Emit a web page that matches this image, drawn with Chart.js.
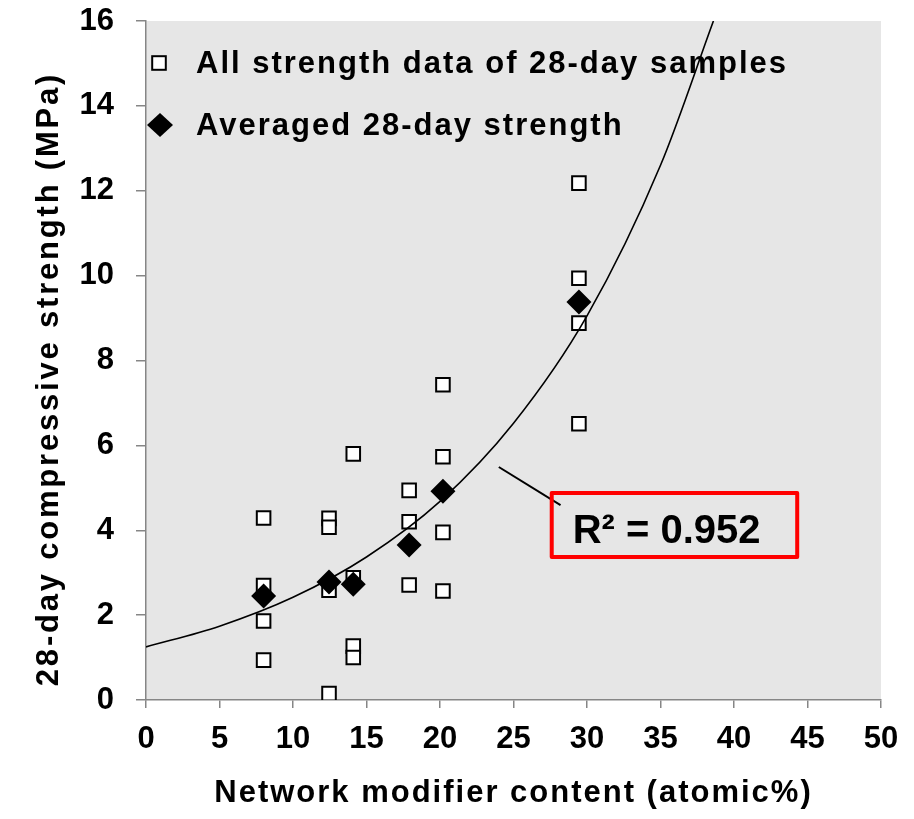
<!DOCTYPE html>
<html>
<head>
<meta charset="utf-8">
<script src="https://cdn.jsdelivr.net/npm/chart.js@4.4.0/dist/chart.umd.min.js"></script>
<style>
  html, body { margin: 0; padding: 0; background: #fff; }
  #wrap { width: 914px; height: 819px; }
</style>
</head>
<body>
<div id="wrap"><canvas id="chart" width="914" height="819"></canvas></div>
<script>
// all strength data of 28-day samples
const sampleX = [8.0, 8.0, 8.0, 8.0, 12.45, 12.45, 12.45, 12.45, 14.1, 14.1, 14.1, 14.1, 17.9, 17.9, 17.9, 20.2, 20.2, 20.2, 20.2, 29.45, 29.45, 29.45, 29.45];
const sampleY = [4.29, 2.70, 1.86, 0.94, 4.28, 4.07, 2.59, 0.15, 5.80, 2.88, 1.27, 1.00, 4.94, 4.20, 2.71, 7.43, 5.73, 3.95, 2.57, 12.18, 9.94, 8.88, 6.51];

// averaged 28-day strength
const avgX = [8.0, 12.45, 14.1, 17.9, 20.2, 29.45];
const avgY = [2.45, 2.78, 2.73, 3.65, 4.92, 9.38];

// exponential trendline, points
const trendX = [0, 5, 10, 15, 20, 25, 30, 35, 38.6];
const trendY = [1.25, 1.74, 2.42, 3.37, 4.68, 6.52, 9.05, 12.6, 16.0];

const xTicks = [0, 5, 10, 15, 20, 25, 30, 35, 40, 45, 50];
const yTicks = [0, 2, 4, 6, 8, 10, 12, 14, 16];

const legendLabels = ['All strength data of 28-day samples', 'Averaged 28-day strength'];
const xTitle = 'Network modifier content (atomic%)';
const yTitle = '28-day compressive strength (MPa)';

// R² callout (data coordinates)
const r2Text = 'R\u00B2 = 0.952';
const r2Box = { x0: 27.6, x1: 44.3, y0: 4.88, y1: 3.37 };
const r2Leader = { x0: 24.0, y0: 5.49, x1: 28.2, y1: 4.59 };

const FONT = '"Liberation Sans", Arial, Helvetica, sans-serif';
const AXIS_GREY = '#868686';

Chart.defaults.font.family = FONT;
Chart.defaults.font.weight = 'bold';
Chart.defaults.color = '#000';

const toPoints = (xs, ys) => xs.map((x, i) => ({ x: x, y: ys[i] }));

/**
 * Grey plot area behind everything
 */
const plotBackground = {
  id: 'plotBackground',
  beforeDraw(chart) {
    const { ctx, chartArea: a } = chart;
    ctx.save();
    ctx.fillStyle = '#e6e6e6';
    ctx.fillRect(a.left, a.top, a.right - a.left, a.bottom - a.top);
    ctx.restore();
  },
};

/**
 * Axis titles, drawn by hand so they can be spaced out like the original
 */
const axisTitles = {
  id: 'axisTitles',
  afterDraw(chart) {
    const { ctx, chartArea: a } = chart;
    ctx.save();
    ctx.fillStyle = '#000';
    ctx.font = 'bold 31px ' + FONT;
    ctx.textBaseline = 'alphabetic';
    ctx.textAlign = 'center';

    ctx.letterSpacing = '2px';
    ctx.fillText(xTitle, (a.left + a.right) / 2, 802);

    ctx.letterSpacing = '2.8px';
    ctx.translate(58, 379);
    ctx.rotate(-Math.PI / 2);
    ctx.fillText(yTitle, 0, 0);
    ctx.restore();
  },
};

/**
 * Legend inside the plot area, top left
 */
const insideLegend = {
  id: 'insideLegend',
  afterDatasetsDraw(chart) {
    const { ctx, chartArea: a } = chart;
    const mx = a.left + 13;
    const tx = a.left + 50;
    const rows = [a.top + 42, a.top + 104];
    ctx.save();

    // open square
    ctx.fillStyle = '#fff';
    ctx.strokeStyle = '#000';
    ctx.lineWidth = 2;
    ctx.fillRect(mx - 6.8, rows[0] - 6.8, 13.6, 13.6);
    ctx.strokeRect(mx - 6.8, rows[0] - 6.8, 13.6, 13.6);

    // filled diamond
    ctx.fillStyle = '#000';
    ctx.beginPath();
    ctx.moveTo(mx + 1, rows[1] - 12);
    ctx.lineTo(mx + 14, rows[1]);
    ctx.lineTo(mx + 1, rows[1] + 12);
    ctx.lineTo(mx - 12, rows[1]);
    ctx.closePath();
    ctx.fill();

    ctx.font = 'bold 31px ' + FONT;
    ctx.letterSpacing = '2px';
    ctx.textBaseline = 'middle';
    ctx.textAlign = 'left';
    legendLabels.forEach((label, i) => ctx.fillText(label, tx, rows[i] + 1));
    ctx.restore();
  },
};

/**
 * R² box with leader line
 */
const r2Callout = {
  id: 'r2Callout',
  afterDatasetsDraw(chart) {
    const { ctx } = chart;
    const xs = chart.scales.x;
    const ys = chart.scales.y;
    const left = xs.getPixelForValue(r2Box.x0);
    const right = xs.getPixelForValue(r2Box.x1);
    const top = ys.getPixelForValue(r2Box.y0);
    const bottom = ys.getPixelForValue(r2Box.y1);

    ctx.save();
    ctx.strokeStyle = '#000';
    ctx.lineWidth = 2;
    ctx.beginPath();
    ctx.moveTo(xs.getPixelForValue(r2Leader.x0), ys.getPixelForValue(r2Leader.y0));
    ctx.lineTo(xs.getPixelForValue(r2Leader.x1), ys.getPixelForValue(r2Leader.y1));
    ctx.stroke();

    ctx.strokeStyle = '#ff0000';
    ctx.lineWidth = 4;
    ctx.lineJoin = 'round';
    ctx.strokeRect(left, top, right - left, bottom - top);

    ctx.fillStyle = '#000';
    ctx.font = 'bold 40px ' + FONT;
    ctx.textBaseline = 'alphabetic';
    ctx.textAlign = 'left';
    ctx.fillText(r2Text, left + 21, bottom - 14);
    ctx.restore();
  },
};

const ctx = document.getElementById('chart').getContext('2d');
const chart = new Chart(ctx, {
  type: 'scatter',
  data: {
    datasets: [
      {
        label: legendLabels[0],
        data: toPoints(sampleX, sampleY),
        pointStyle: 'rect',
        pointRadius: 9.6,
        backgroundColor: '#ffffff',
        borderColor: '#000000',
        borderWidth: 2,
        order: 3,
      },
      {
        label: 'Trendline',
        data: toPoints(trendX, trendY),
        showLine: true,
        pointRadius: 0,
        borderColor: '#000000',
        borderWidth: 1.6,
        cubicInterpolationMode: 'monotone',
        order: 2,
      },
      {
        label: legendLabels[1],
        data: toPoints(avgX, avgY),
        pointStyle: 'rectRot',
        pointRadius: 12.5,
        backgroundColor: '#000000',
        borderColor: '#000000',
        borderWidth: 0,
        order: 1,
      },
    ],
  },
  options: {
    responsive: false,
    animation: false,
    events: [],
    layout: { padding: { top: 21, right: 33, bottom: 0, left: 0 } },
    plugins: {
      legend: { display: false },
      tooltip: { enabled: false },
    },
    scales: {
      x: {
        type: 'linear',
        min: 0,
        max: 50,
        afterBuildTicks: (scale) => { scale.ticks = xTicks.map((v) => ({ value: v })); },
        afterFit: (scale) => { scale.height = 119; },
        grid: { drawOnChartArea: false, tickLength: 8, color: AXIS_GREY, lineWidth: 1.5 },
        border: { color: AXIS_GREY, width: 1.5 },
        ticks: { font: { size: 31, weight: 'bold' }, padding: 13, maxRotation: 0, autoSkip: false },
        title: { display: false },
      },
      y: {
        type: 'linear',
        min: 0,
        max: 16,
        afterBuildTicks: (scale) => { scale.ticks = yTicks.map((v) => ({ value: v })); },
        afterFit: (scale) => {
          scale.width = 146;
          scale.paddingTop = 0;
          scale.paddingBottom = 0;
        },
        grid: { drawOnChartArea: false, tickLength: 10, color: AXIS_GREY, lineWidth: 1.5 },
        border: { color: AXIS_GREY, width: 1.5 },
        ticks: { font: { size: 31, weight: 'bold' }, padding: 22 },
        title: { display: false },
      },
    },
  },
  plugins: [plotBackground, insideLegend, r2Callout, axisTitles],
});
</script>
</body>
</html>
